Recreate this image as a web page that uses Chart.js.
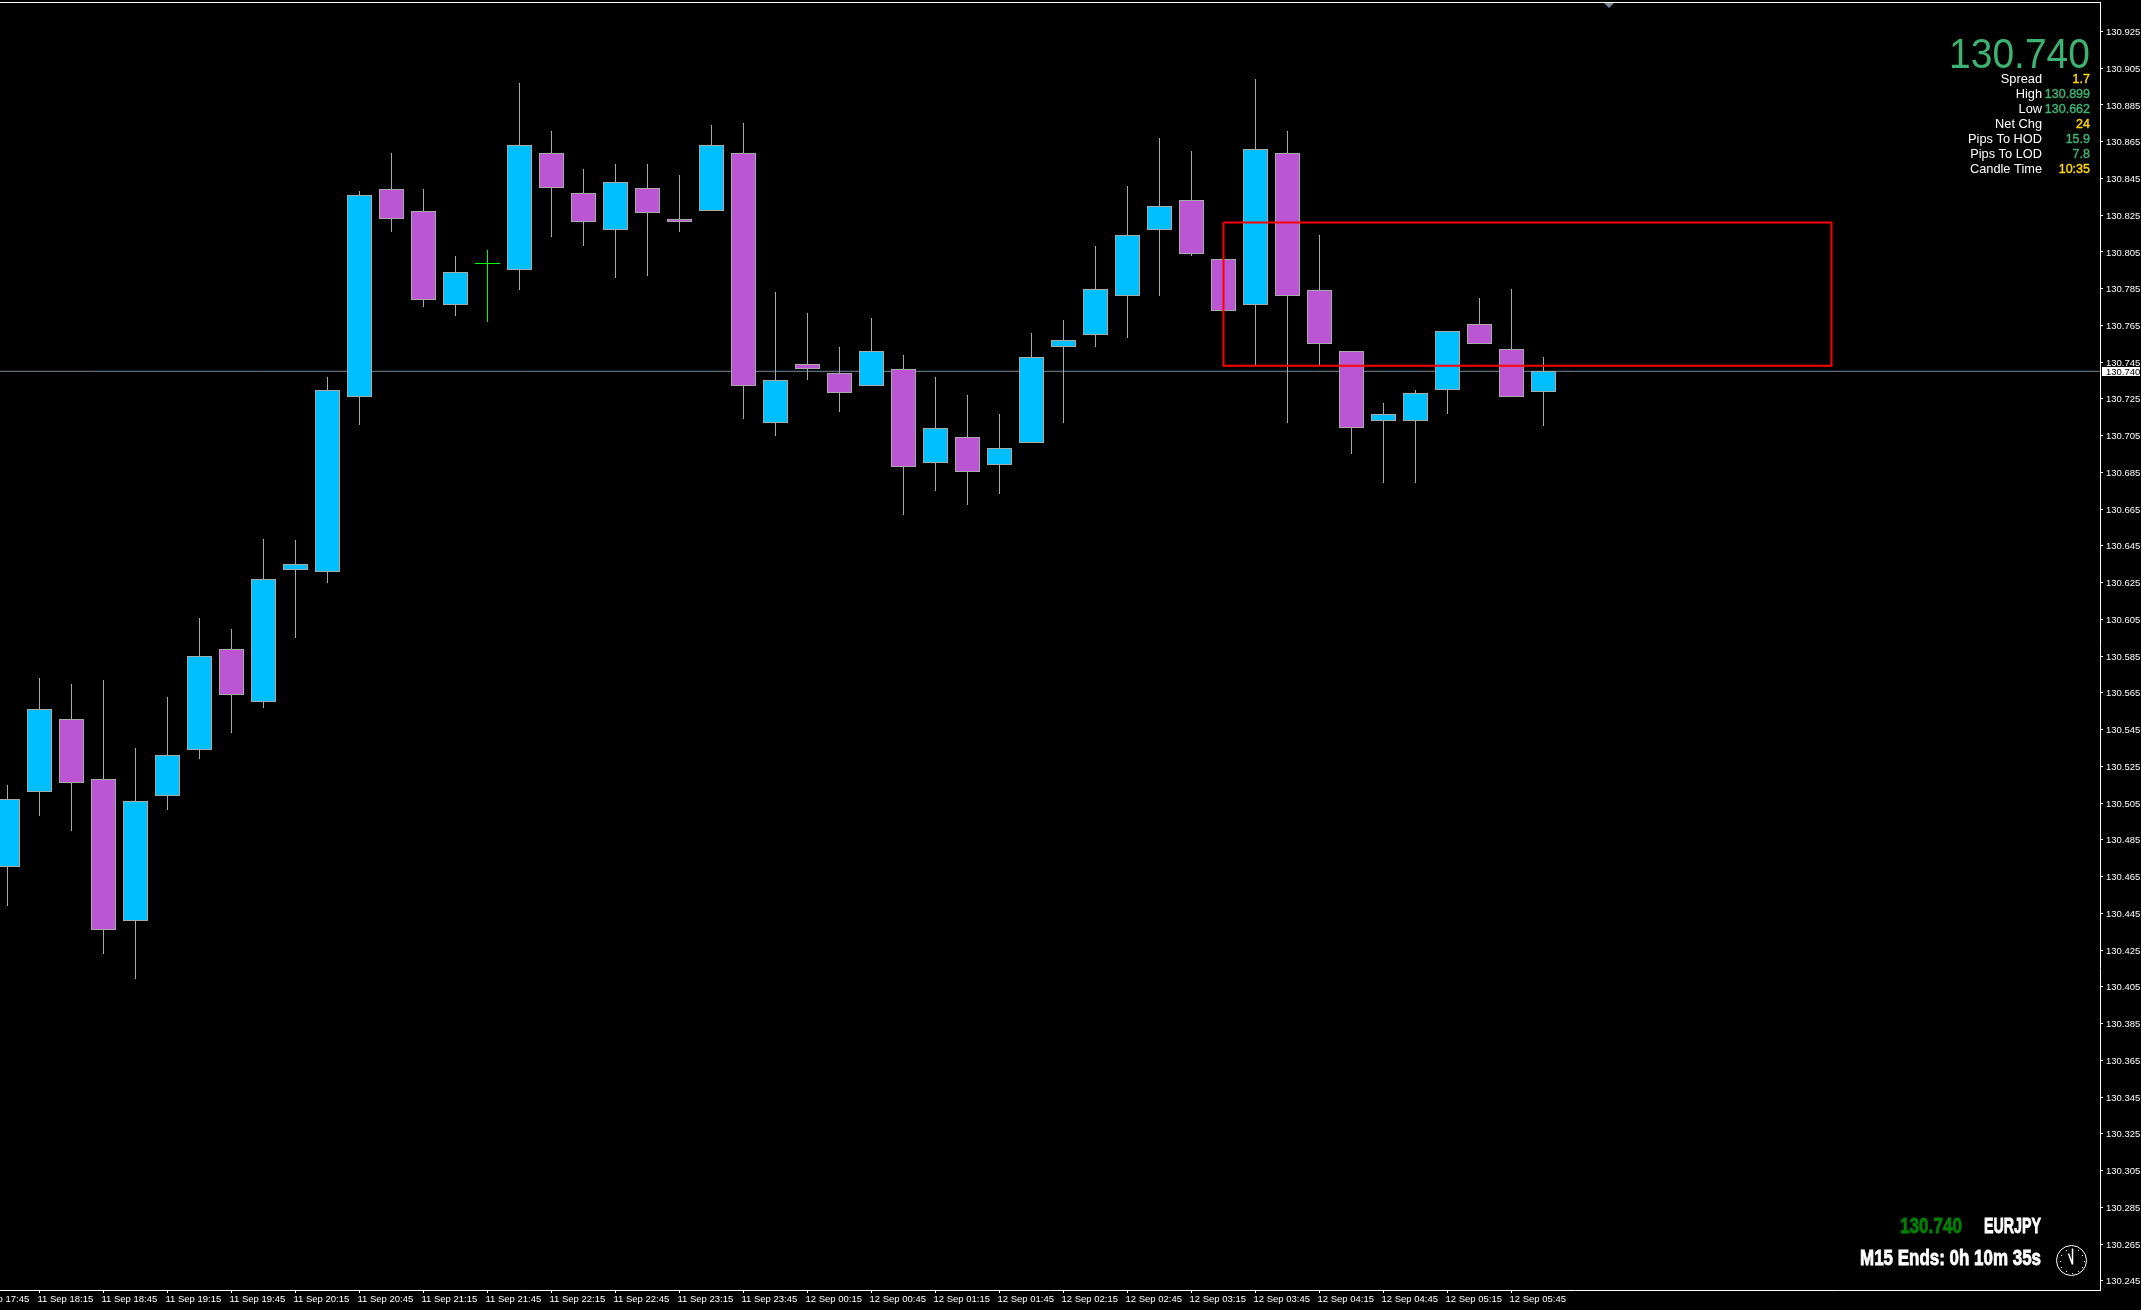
<!DOCTYPE html>
<html>
<head>
<meta charset="utf-8">
<title>EURJPY M15</title>
<script src="https://cdn.jsdelivr.net/npm/chart.js@4/dist/chart.umd.min.js"></script>
<style>
html,body{margin:0;padding:0;background:#000;overflow:hidden;}
canvas{display:block;}
</style>
</head>
<body>
<canvas id="Charts" width="2141" height="1310"></canvas>
<script>
// candles, one every 15 min (3 decimals like the quote)
var openPrices = [130.470,130.511,130.551,130.518,130.441,130.509,130.534,130.589,130.560,130.632,130.631,130.726,130.839,130.827,130.776,130.799,130.795,130.859,130.837,130.817,130.840,130.823,130.827,130.859,130.712,130.744,130.739,130.732,130.741,130.690,130.704,130.689,130.701,130.753,130.760,130.781,130.817,130.833,130.801,130.776,130.859,130.784,130.751,130.713,130.713,130.730,130.766,130.752,130.729];
var highPrices = [130.515,130.573,130.570,130.572,130.535,130.563,130.606,130.600,130.649,130.648,130.737,130.838,130.859,130.839,130.803,130.806,130.897,130.871,130.850,130.853,130.853,130.847,130.874,130.875,130.783,130.772,130.753,130.769,130.749,130.737,130.727,130.717,130.761,130.768,130.808,130.841,130.867,130.860,130.801,130.899,130.871,130.814,130.751,130.723,130.730,130.762,130.780,130.785,130.748];
var lowPrices = [130.449,130.498,130.490,130.423,130.409,130.501,130.529,130.543,130.557,130.595,130.625,130.711,130.816,130.775,130.770,130.767,130.784,130.813,130.808,130.791,130.792,130.816,130.827,130.714,130.705,130.735,130.718,130.732,130.662,130.675,130.667,130.673,130.701,130.712,130.753,130.758,130.781,130.803,130.773,130.743,130.712,130.743,130.695,130.679,130.679,130.717,130.755,130.726,130.710];
var closePrices = [130.507,130.556,130.516,130.436,130.506,130.531,130.585,130.564,130.627,130.635,130.730,130.836,130.823,130.779,130.794,130.799,130.863,130.840,130.821,130.843,130.826,130.8215,130.863,130.732,130.735,130.741,130.728,130.751,130.688,130.709,130.685,130.698,130.748,130.757,130.785,130.814,130.830,130.804,130.773,130.861,130.781,130.755,130.709,130.717,130.728,130.762,130.755,130.726,130.740];
var doji = 15;
var currentPrice = 130.740;
// red box: x in candle numbers, y in prices
var boxLeft = 38, boxRight = 57, boxTop = 130.821, boxBottom = 130.743;
var priceTicks = [130.245,130.265,130.285,130.305,130.325,130.345,130.365,130.385,130.405,130.425,130.445,130.465,130.485,130.505,130.525,130.545,130.565,130.585,130.605,130.625,130.645,130.665,130.685,130.705,130.725,130.745,130.765,130.785,130.805,130.825,130.845,130.865,130.885,130.905,130.925];
var timeLabels = ['11 Sep 17:45','11 Sep 18:15','11 Sep 18:45','11 Sep 19:15','11 Sep 19:45','11 Sep 20:15','11 Sep 20:45','11 Sep 21:15','11 Sep 21:45','11 Sep 22:15','11 Sep 22:45','11 Sep 23:15','11 Sep 23:45','12 Sep 00:15','12 Sep 00:45','12 Sep 01:15','12 Sep 01:45','12 Sep 02:15','12 Sep 02:45','12 Sep 03:15','12 Sep 03:45','12 Sep 04:15','12 Sep 04:45','12 Sep 05:15','12 Sep 05:45'];
var timeTickIndex = [-1,1,3,5,7,9,11,13,15,17,19,21,23,25,27,29,31,33,35,37,39,41,43,45,47];

var upColor = '#00BFFF', downColor = '#BA55D3', edgeColor = '#A9A9A9', dojiColor = '#00FF00';
var white = '#FFFFFF', quoteGreen = '#3CB371', gold = '#FFD700';
var fontName = '"Liberation Sans", Arial, sans-serif';

var bodyColors = [], edgeColors = [];
var bodies = [], wicks = [];
for(let i=0;i<openPrices.length;i++){
    bodies.push({x:i, y:[openPrices[i],closePrices[i]]});
    wicks.push({x:i, y:[lowPrices[i],highPrices[i]]});
    bodyColors.push(i==doji ? dojiColor : (closePrices[i]>=openPrices[i] ? upColor : downColor));
    edgeColors.push(i==doji ? dojiColor : edgeColor);
}

// snap bars to whole pixels, otherwise the 1px borders go blurry
var snapBars = {
    id:'snapBars',
    beforeDatasetsDraw(chart){
        chart.data.datasets.forEach((d,n)=>{
            if(d.type=='line') return;
            chart.getDatasetMeta(n).data.forEach(el=>{
                el.y=Math.round(el.y);
                el.base=Math.round(el.base);
                if(el.base==el.y) el.base=el.y+1;
            });
        });
    }
};

function rightText(ctx,txt,x,y,font,color,heavy){
    ctx.font=font;
    ctx.fillStyle=color;
    ctx.textAlign='right';
    ctx.textBaseline='alphabetic';
    if(heavy){
        ctx.strokeStyle=color;
        ctx.lineWidth=0.4;
        ctx.strokeText(txt,x,y);
    }
    ctx.fillText(txt,x,y);
}

// the indicator font is narrow and heavy, squeeze a bold one to the same width
function narrowText(ctx,txt,right,y,width,size,color){
    ctx.save();
    ctx.font='bold '+size+'px '+fontName;
    ctx.textAlign='left';
    ctx.textBaseline='alphabetic';
    var k=width/ctx.measureText(txt).width;
    ctx.translate(right-width,y);
    ctx.scale(k,1);
    ctx.fillStyle=color;
    ctx.strokeStyle=color;
    ctx.lineWidth=0.8;
    ctx.strokeText(txt,0,0);
    ctx.fillText(txt,0,0);
    ctx.restore();
}

function drawClock(ctx,cx,cy,r){
    ctx.save();
    ctx.strokeStyle=white;
    ctx.fillStyle=white;
    ctx.lineWidth=1;
    ctx.beginPath();
    ctx.arc(cx,cy,r,0,Math.PI*2);
    ctx.stroke();
    for(let h=0;h<12;h++){
        let a=h*Math.PI/6;
        ctx.fillRect(Math.round(cx+Math.sin(a)*(r-3)),Math.round(cy-Math.cos(a)*(r-3)),1,1);
    }
    ctx.lineWidth=1.5;
    ctx.beginPath();
    ctx.moveTo(cx+1,cy+4);
    ctx.lineTo(cx-3,cy-7);
    ctx.moveTo(cx+1,cy+4);
    ctx.lineTo(cx+1,cy-12);
    ctx.stroke();
    ctx.restore();
}

var overlays = {
    id:'overlays',
    afterDraw(chart){
        var ctx=chart.ctx, a=chart.chartArea, yScale=chart.scales.y;
        ctx.save();
        // frame on top, the axes only give right and bottom
        ctx.fillStyle=white;
        ctx.fillRect(0,2,a.right+1,1);

        // shift marker
        ctx.fillStyle='#778899';
        ctx.beginPath();
        ctx.moveTo(1604,3);
        ctx.lineTo(1614,3);
        ctx.lineTo(1609,8);
        ctx.closePath();
        ctx.fill();

        // current price label on the axis
        var py=Math.round(yScale.getPixelForValue(currentPrice));
        ctx.fillStyle=white;
        ctx.fillRect(a.right+2,py-4,38,9);
        ctx.fillStyle='#000';
        ctx.font='9.5px '+fontName;
        ctx.textAlign='left';
        ctx.textBaseline='middle';
        ctx.fillText(currentPrice.toFixed(3),a.right+6,py+1);

        // quote panel, big price is taller than it is wide
        narrowPrice(ctx,currentPrice.toFixed(3),2090,68,141,42,quoteGreen);
        var panelNames=['Spread','High','Low','Net Chg','Pips To HOD','Pips To LOD','Candle Time'];
        var panelValues=['1.7','130.899','130.662','24','15.9','7.8','10:35'];
        var panelColors=[gold,quoteGreen,quoteGreen,gold,quoteGreen,quoteGreen,gold];
        var panelY=[83,98,113,128,143,158,173];
        for(let i=0;i<panelNames.length;i++){
            rightText(ctx,panelNames[i],2042,panelY[i],'12.8px '+fontName,white);
            rightText(ctx,panelValues[i],2090,panelY[i],'12.5px '+fontName,panelColors[i],true);
        }

        // bottom right block
        narrowText(ctx,currentPrice.toFixed(3),1962,1233,62,22,'#008000');
        narrowText(ctx,'EURJPY',2041,1233,57,22,white);
        narrowText(ctx,'M15 Ends: 0h 10m 35s',2041,1265,181,22,white);
        drawClock(ctx,2071.5,1260.5,15);
        ctx.restore();
    }
};

function narrowPrice(ctx,txt,right,y,width,size,color){
    ctx.save();
    ctx.font=size+'px '+fontName;
    ctx.textAlign='left';
    ctx.textBaseline='alphabetic';
    var k=width/ctx.measureText(txt).width;
    ctx.translate(right-width,y);
    ctx.scale(k,1);
    ctx.fillStyle=color;
    ctx.fillText(txt,0,0);
    ctx.restore();
}

// tick labels on the edge must not push the plot area in
function noScalePadding(scale){
    scale.paddingLeft=0;
    scale.paddingRight=0;
    scale.paddingTop=0;
    scale.paddingBottom=0;
}

var ctx = document.getElementById('Charts').getContext('2d');

var myChart = new Chart(ctx, {
    type: 'bar',
    data: {
        datasets: [
            {
                type:'line',
                data:[{x:boxLeft,y:boxTop},{x:boxRight,y:boxTop},{x:boxRight,y:boxBottom},{x:boxLeft,y:boxBottom},{x:boxLeft,y:boxTop}],
                borderColor:'#FF0000',
                borderWidth:2,
                pointRadius:0,
                tension:0,
                fill:false,
                order:0
            },
            {
                data:bodies,
                backgroundColor:bodyColors,
                borderColor:edgeColors,
                borderWidth:1,
                borderSkipped:false,
                inflateAmount:0,
                barThickness:25,
                grouped:false,
                order:1
            },
            {
                data:wicks,
                backgroundColor:edgeColors,
                borderWidth:0,
                borderSkipped:false,
                inflateAmount:0,
                barThickness:1,
                grouped:false,
                order:2
            },
            {
                type:'line',
                data:[{x:-1,y:currentPrice},{x:70,y:currentPrice}],
                borderColor:'#778899',
                borderWidth:1,
                pointRadius:0,
                fill:false,
                order:3
            }
        ]
    },
    plugins:[snapBars,overlays],
    options:{
        responsive:false,
        animation:false,
        events:[],
        layout:{padding:{top:2,left:0,right:0,bottom:0}},
        plugins:{legend:{display:false},title:{display:false},tooltip:{enabled:false}},
        scales:{
            x:{
                type:'linear',
                offset:false,
                // candle 0 sits at 7.5px, one candle every 32px
                min:-7.5/32,
                max:(2100-7.5)/32,
                afterBuildTicks(scale){
                    scale.ticks=timeTickIndex.map(v=>({value:v}));
                },
                afterFit(scale){ scale.height=20; noScalePadding(scale); },
                ticks:{
                    autoSkip:false,
                    maxRotation:0,
                    minRotation:0,
                    align:'start',
                    labelOffset:-2,
                    padding:1,
                    color:white,
                    font:{family:fontName,size:9.5},
                    callback(v){ return timeLabels[timeTickIndex.indexOf(v)]; }
                },
                grid:{drawOnChartArea:false,drawTicks:true,tickLength:3,tickColor:white,offset:false},
                border:{color:white,width:1}
            },
            y:{
                position:'right',
                min:130.24,
                max:130.941,
                afterBuildTicks(scale){
                    scale.ticks=priceTicks.map(v=>({value:v}));
                },
                afterFit(scale){ scale.width=41; noScalePadding(scale); },
                ticks:{
                    padding:3,
                    labelOffset:1,
                    color:white,
                    font:{family:fontName,size:9.5},
                    callback(v){ return v.toFixed(3); }
                },
                grid:{drawOnChartArea:false,drawTicks:true,tickLength:3,tickColor:white},
                border:{color:white,width:1}
            }
        }
    }
});
</script>
</body>
</html>
